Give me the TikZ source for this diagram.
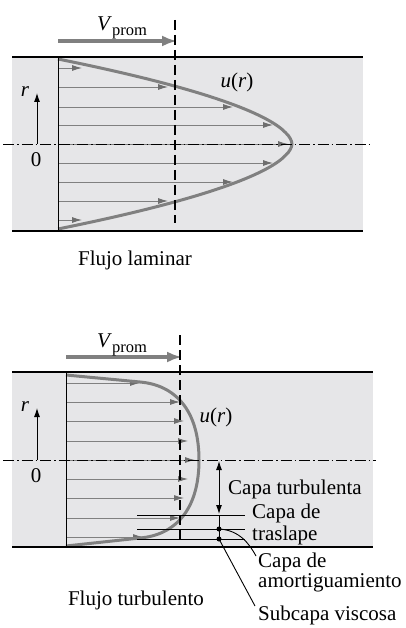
\documentclass[tikz,border=0pt]{standalone}
\usepackage{fontspec}
\setmainfont{Liberation Serif}
\usetikzlibrary{arrows.meta}
\begin{document}
\begin{tikzpicture}[x=1pt,y=-1pt,
  txt/.style={inner sep=0pt,font=\fontsize{21}{22}\selectfont},
  wall/.style={line width=2.2pt,black},
  axisline/.style={line width=0.9pt,black},
  centerl/.style={line width=0.8pt,black,dash pattern=on 11pt off 3pt on 1.5pt off 3pt},
  vdash/.style={line width=2.2pt,black,dash pattern=on 10pt off 5pt},
  vel/.style={line width=0.9pt,profgray,-{Latex[length=10pt,width=6pt,color=headgray]}},
  prof/.style={line width=3pt,profgray},
  vprom/.style={line width=4pt,profgray,-{Latex[length=15pt,width=11pt]}},
  thin/.style={line width=0.9pt,black},
  blk/.style={thin,-{Latex[length=9pt,width=6pt]}},
  dotm/.style={circle,fill=black,inner sep=0pt,minimum size=5pt}]
\definecolor{pipegray}{RGB}{230,230,232}
\definecolor{profgray}{RGB}{128,128,128}
\definecolor{headgray}{RGB}{110,110,110}
\useasboundingbox (0,0) rectangle (405,628);
\fill[white] (0,0) rectangle (405,628);

% ================= Laminar =================
\fill[pipegray] (12,57) rectangle (363,231);
\foreach \yy/\tip in {68/82,87/168,107/233,125/273,144/288,163/273,182/233,201/168,220/82}
  \draw[vel] (58,\yy) -- (\tip,\yy);
\draw[prof] plot[domain=-1:1,samples=61,smooth] ({58+234*(1-(abs(\x)+0.0001)^1.8)},{144+85*\x});
\draw[axisline] (58,57) -- (58,231);
\draw[wall] (12,57) -- (363,57);
\draw[wall] (12,231) -- (363,231);
\draw[centerl] (3,144) -- (371,144);
\coordinate (la0) at (37,144);
\coordinate (la1) at (37,93);
\draw[blk] (la0) -- (la1);
\node[txt] (lr) at (25,92) {\textit{r}};
\node[txt] (l0) at (36,160) {0};
\coordinate (lv0) at (58,41);
\coordinate (lv1) at (177,41);
\draw[vprom] (lv0) -- (lv1);
\draw[vdash] (175,20) -- (175,223);
\node[txt,anchor=base west] (lvp) at (97,31) {\textit{V}\raisebox{-5pt}{\fontsize{16.5}{18}\selectfont prom}};
\node[txt] (lu) at (237,82) {\textit{u}(\textit{r})};
\node[txt] (lt) at (135,260) {Flujo laminar};

% ================= Turbulent =================
\fill[pipegray] (12,372) rectangle (373,547);
\foreach \yy/\tip in {383/140,402/180,421/184,441/188,460/195,479/188,498/184,518/180,537/143}
  \draw[vel] (66,\yy) -- (\tip,\yy);
\draw[prof] (66,375) -- (140,382) .. controls (175,385) and (199,410) .. (199,460)
  .. controls (199,510) and (175,535) .. (140,538) -- (66,546);
\draw[axisline] (66,372) -- (66,547);
\draw[wall] (12,372) -- (373,372);
\draw[wall] (12,547) -- (373,547);
\draw[centerl] (3,460) -- (376,460);
\coordinate (ta0) at (37,460);
\coordinate (ta1) at (37,408);
\draw[blk] (ta0) -- (ta1);
\node[txt] (tr) at (25,407) {\textit{r}};
\node[txt] (t0) at (36,476) {0};
\coordinate (tv0) at (66,357);
\coordinate (tv1) at (182,357);
\draw[vprom] (tv0) -- (tv1);
\draw[vdash] (180,335) -- (180,539);
\node[txt,anchor=base west] (tvp) at (97,347) {\textit{V}\raisebox{-5pt}{\fontsize{16.5}{18}\selectfont prom}};
\node[txt] (tu) at (216,417) {\textit{u}(\textit{r})};

% layers
\coordinate (h1a) at (137,515); \coordinate (h1b) at (245,515);
\coordinate (h2a) at (137,529); \coordinate (h2b) at (245,529);
\coordinate (h3a) at (137,539); \coordinate (h3b) at (245,539);
\draw[thin] (h1a) -- (h1b);
\draw[thin] (h2a) -- (h2b);
\draw[thin] (h3a) -- (h3b);
\coordinate (ct0) at (219,461);
\coordinate (ct1) at (219,514);
\draw[thin,{Latex[length=9pt,width=6pt]}-{Latex[length=9pt,width=6pt]}] (ct0) -- (ct1);
\node[dotm] (d1) at (219,529) {};
\node[dotm] (d2) at (219,539) {};
\draw[thin] (219,515) -- (d2.center);

\node[txt,anchor=west] (capt) at (228,489) {Capa turbulenta};
\node[txt,anchor=west] (cap1) at (252,513) {Capa de};
\node[txt,anchor=west] (cap2) at (252,535) {traslape};
\node[txt,anchor=west] (cam1) at (258,562) {Capa de};
\node[txt,anchor=west] (cam2) at (258,583) {amortiguamiento};
\node[txt,anchor=west] (csv) at (258,615) {Subcapa viscosa};
\coordinate (le1) at (256,556);
\coordinate (le2) at (255,606);
\draw[thin] (d1.center) .. controls (240,530) and (250,545) .. (le1);
\draw[thin] (d2.center) -- (le2);

\node[txt] (tt) at (136,600) {Flujo turbulento};
\end{tikzpicture}
\end{document}
